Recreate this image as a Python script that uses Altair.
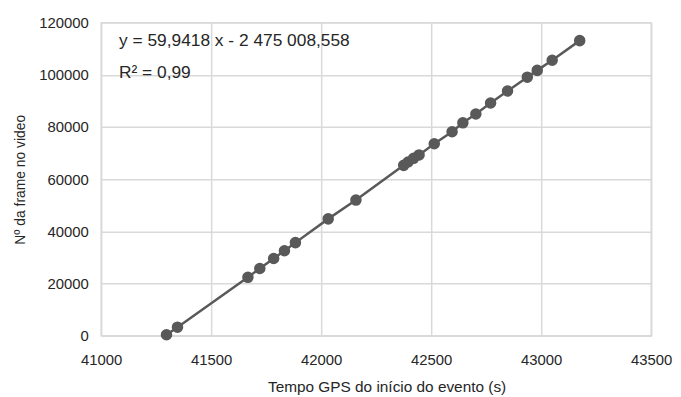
import altair as alt
import pandas as pd

tempo = [41297, 41347, 41667, 41721, 41784, 41833, 41883, 42032, 42158,
         42375, 42395, 42420, 42445, 42514, 42595, 42644, 42703, 42770,
         42847, 42937, 42982, 43050, 43175]
frame = [400, 3300, 22400, 25800, 29600, 32600, 35700, 44800, 52000,
         65300, 66600, 68000, 69300, 73600, 78200, 81600, 85000, 89200,
         93800, 99100, 101700, 105600, 113100]

x_ticks = [41000, 41500, 42000, 42500, 43000, 43500]
y_ticks = [0, 20000, 40000, 60000, 80000, 100000, 120000]

eq_line1 = "y = 59,9418 x - 2 475 008,558"
eq_line2 = "R² = 0,99"

df = pd.DataFrame({"t": tempo, "f": frame})

FONT = "Liberation Sans"
GREY = "#595959"
TXT = "#262626"

x = alt.X("t:Q", scale=alt.Scale(domain=[41000, 43500], nice=False),
          axis=alt.Axis(values=x_ticks, title="Tempo GPS do início do evento (s)",
                        format="d", labelFlush=False, titleX=288, titleY=56,
                        titleBaseline="alphabetic", titleFontSize=15.5))
y = alt.Y("f:Q", scale=alt.Scale(domain=[0, 120000], nice=False),
          axis=alt.Axis(values=y_ticks, title="Nº da frame no video", format="d"))

line = alt.Chart(df).mark_line(color=GREY, strokeWidth=2.5).encode(x=x, y=y)
pts = alt.Chart(df).mark_circle(color=GREY, size=135, opacity=1).encode(x=x, y=y)

t1 = alt.Chart(df.head(1)).mark_text(align="left", baseline="middle", font=FONT,
                                     fontSize=17.5, color=TXT).encode(
    x=alt.value(18), y=alt.value(19), text=alt.value(eq_line1))
t2 = alt.Chart(df.head(1)).mark_text(align="left", baseline="middle", font=FONT,
                                     fontSize=17.5, color=TXT).encode(
    x=alt.value(18), y=alt.value(51), text=alt.value(eq_line2))

chart = alt.layer(line, pts, t1, t2).properties(
    width=555, height=316,
    autosize=alt.AutoSizeParams(type="none"),
    padding={"left": 94, "top": 13, "right": 22, "bottom": 59},
).configure_view(stroke="#d9d9d9", strokeWidth=1.5).configure_axis(
    grid=True, gridColor="#d9d9d9", gridWidth=1.5,
    domain=False, ticks=False,
    labelFont=FONT, labelFontSize=15, labelColor=TXT,
    titleFont=FONT, titleFontSize=14, titleColor=TXT, titleFontWeight="normal",
).configure_axisX(labelPadding=17).configure_axisY(
    labelPadding=13, titlePadding=11)

chart.save("out.html", embed_options={"renderer": "svg", "actions": False})
